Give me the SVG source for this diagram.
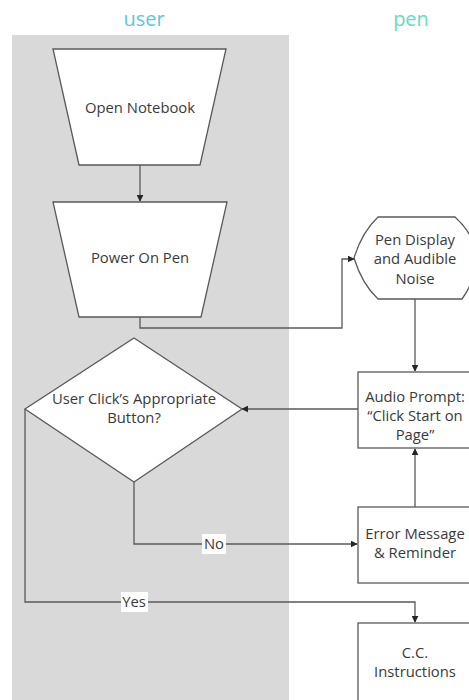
<svg xmlns="http://www.w3.org/2000/svg" width="469" height="700" viewBox="0 0 469 700">
<defs>
<style>
.shape{fill:#ffffff;stroke:#595959;stroke-width:1.3}
.lbl{font-family:"Open Sans","Liberation Sans",sans-serif;font-size:14.8px;fill:#3a3a3a;text-anchor:middle}
.edge{fill:none;stroke:#595959;stroke-width:1.3}
.title{font-family:"Open Sans","Liberation Sans",sans-serif;font-size:20px;text-anchor:middle}
</style>
<marker id="arr" viewBox="0 0 10 10" refX="9" refY="5" markerWidth="7" markerHeight="7" markerUnits="userSpaceOnUse" orient="auto">
<path d="M0,0 L10,5 L0,10 z" fill="#262626"/>
</marker>
</defs>
<rect x="0" y="0" width="469" height="700" fill="#ffffff"/>
<rect id="lane-user" x="12" y="35" width="277" height="665" fill="#d9d9d9"/>
<text class="title" x="144" y="26" fill="#5ec4e4">user</text>
<text class="title" x="411" y="26" fill="#66dcc0">pen</text>

<g id="connectors">
<path class="edge" d="M140,165 L140,201" marker-end="url(#arr)"/>
<path class="edge" d="M140,317 L140,328 L342,328 L342,259 L354,259" marker-end="url(#arr)"/>
<path class="edge" d="M415,299 L415,371" marker-end="url(#arr)"/>
<path class="edge" d="M358,409 L242,409" marker-end="url(#arr)"/>
<path class="edge" d="M415,507 L415,449" marker-end="url(#arr)"/>
<path class="edge" d="M134,482 L134,544 L357,544" marker-end="url(#arr)"/>
<path class="edge" d="M25,409 L25,602 L415,602 L415,622" marker-end="url(#arr)"/>
<rect x="202" y="534" width="24" height="20" fill="#ffffff"/>
<text class="lbl" x="214" y="549">No</text>
<rect x="121" y="592" width="27" height="20" fill="#ffffff"/>
<text class="lbl" x="134" y="607">Yes</text>
</g>

<g id="open-notebook">
<path class="shape" d="M53,49 L226,49 L200,165 L79,165 Z"/>
<text class="lbl" x="140" y="113">Open Notebook</text>
</g>
<g id="power-on-pen">
<path class="shape" d="M53,202 L227,202 L201,317 L79,317 Z"/>
<text class="lbl" x="140" y="263">Power On Pen</text>
</g>
<g id="pen-display">
<path class="shape" d="M455,217 L378,217 Q362,232 354,258 Q362,284 378,299 L462,299 Q476,280 476,258 Q476,236 455,217 Z"/>
<text class="lbl" x="415" y="245">Pen Display</text>
<text class="lbl" x="415" y="264">and Audible</text>
<text class="lbl" x="415" y="284">Noise</text>
</g>
<g id="decision">
<path class="shape" d="M134,338 L242,409 L134,482 L25,409 Z"/>
<text class="lbl" x="134" y="404">User Click’s Appropriate</text>
<text class="lbl" x="134" y="423">Button?</text>
</g>
<g id="audio-prompt">
<rect class="shape" x="358" y="372" width="120" height="76"/>
<text class="lbl" x="415" y="402">Audio Prompt:</text>
<text class="lbl" x="415" y="421">“Click Start on</text>
<text class="lbl" x="415" y="440">Page”</text>
</g>
<g id="error-message">
<rect class="shape" x="358" y="507" width="120" height="76"/>
<text class="lbl" x="415" y="539">Error Message</text>
<text class="lbl" x="415" y="558">&amp; Reminder</text>
</g>
<g id="cc-instructions">
<rect class="shape" x="358" y="623" width="120" height="90"/>
<text class="lbl" x="415" y="658">C.C.</text>
<text class="lbl" x="415" y="677">Instructions</text>
</g>
</svg>
